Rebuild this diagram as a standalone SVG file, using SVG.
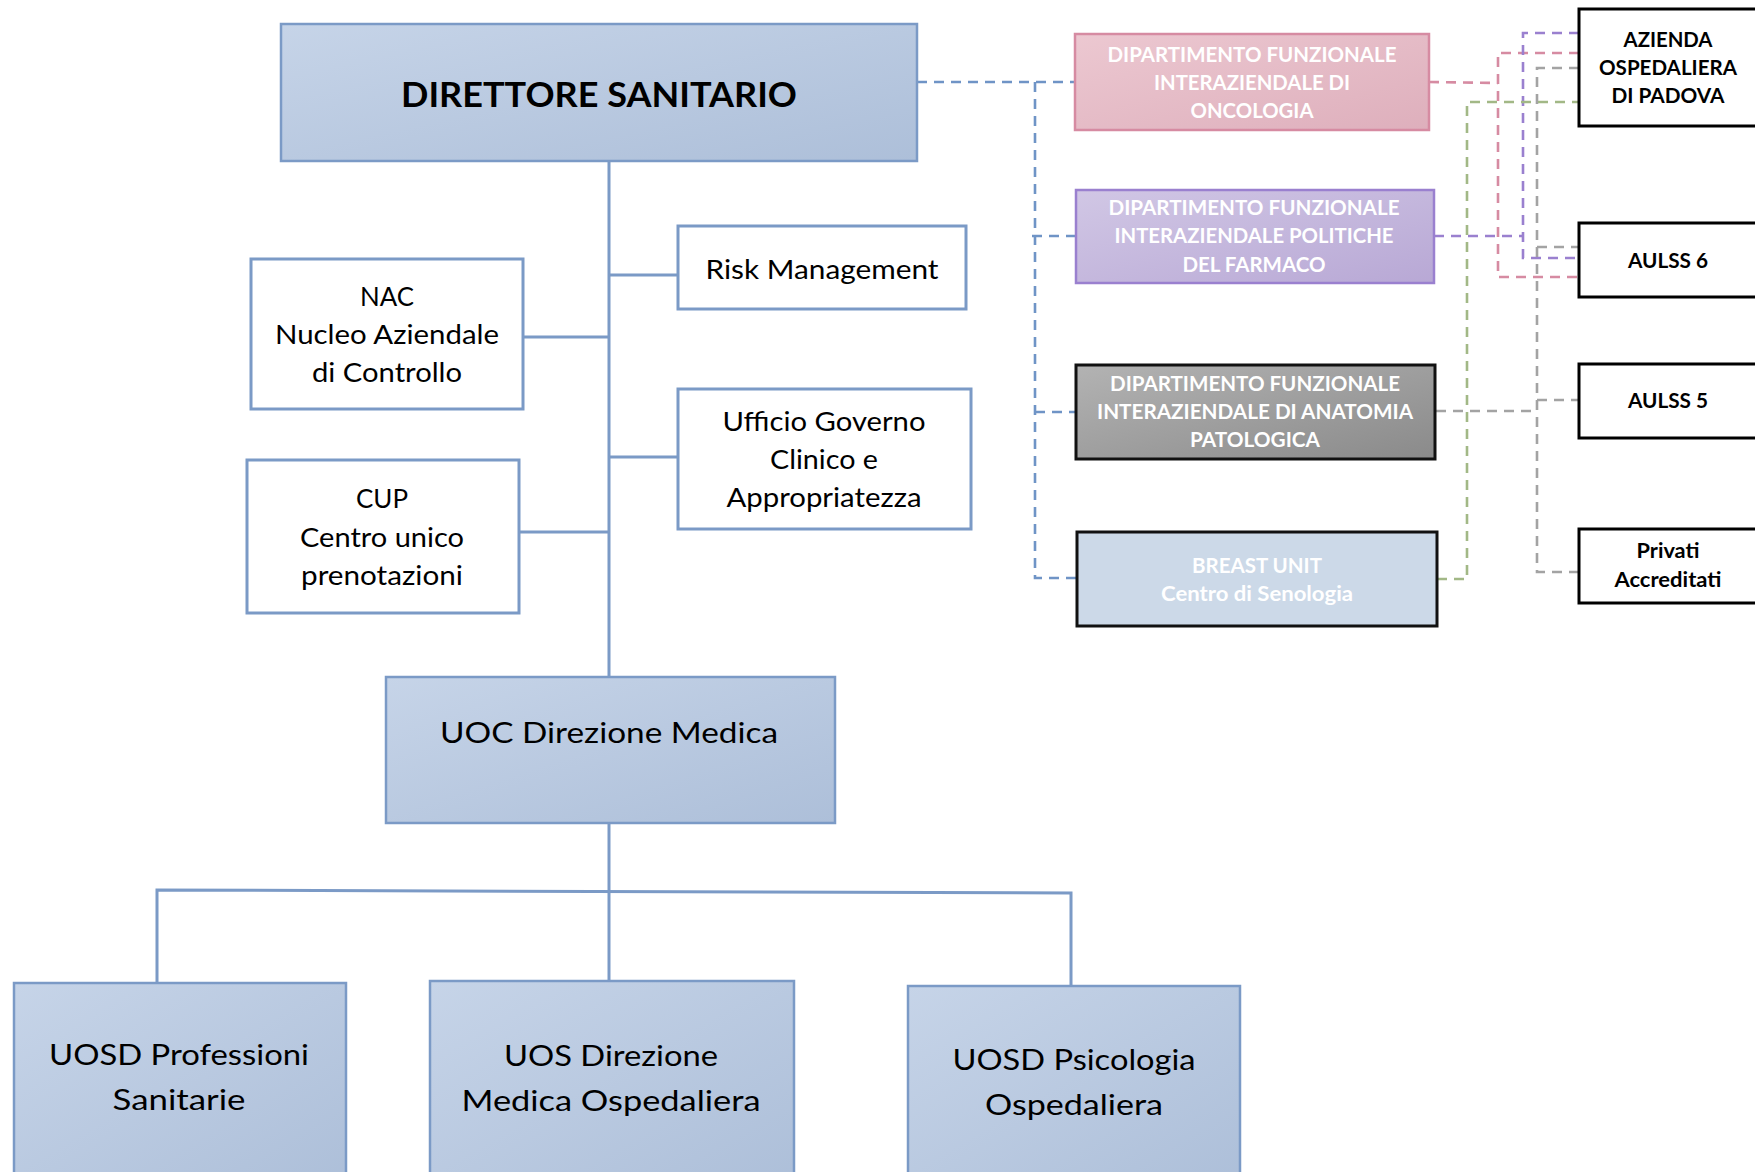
<svg xmlns="http://www.w3.org/2000/svg" width="1755" height="1172" viewBox="0 0 1755 1172">
<defs>
<linearGradient id="gBlue" x1="0" y1="0" x2="1" y2="1">
<stop offset="0" stop-color="#c6d4e8"/><stop offset="1" stop-color="#adbfd9"/>
</linearGradient>
<linearGradient id="gPink" x1="0" y1="0" x2="1" y2="1">
<stop offset="0" stop-color="#ecc8d1"/><stop offset="1" stop-color="#deafbc"/>
</linearGradient>
<linearGradient id="gPurple" x1="0" y1="0" x2="1" y2="1">
<stop offset="0" stop-color="#d1c7e5"/><stop offset="1" stop-color="#b8a8d5"/>
</linearGradient>
<linearGradient id="gGray" x1="0" y1="0" x2="1" y2="1">
<stop offset="0" stop-color="#b3b3b3"/><stop offset="1" stop-color="#8a8a8a"/>
</linearGradient>
</defs>
<style>
.blue{fill:url(#gBlue);stroke:#7b9ac6;stroke-width:2.5}
.white{fill:#fff;stroke:#7b9ac6;stroke-width:3}
.ext{fill:#fff;stroke:#000;stroke-width:3}
.t{font-family:Lato,"Open Sans",sans-serif;fill:#000;text-anchor:middle}
.tb{font-family:Lato,"Open Sans",sans-serif;font-weight:bold;text-anchor:middle}
.w{fill:#fff}
.k{fill:#000}
.solid{fill:none;stroke:#7b9ac6;stroke-width:3}
.d{fill:none;stroke-width:2.6;stroke-dasharray:10 7}
.db{stroke:#6f94c6}
.dp{stroke:#d68ba2}
.du{stroke:#9a80cf}
.dg{stroke:#a3a3a3}
.dv{stroke:#a2b886}
</style>

<g id="connectors">
<path class="solid" d="M609,161 V677"/>
<path class="solid" d="M609,275 H678"/>
<path class="solid" d="M523,337 H609"/>
<path class="solid" d="M609,457 H678"/>
<path class="solid" d="M519,532 H609"/>
<path class="solid" d="M609,823 V981"/>
<path class="solid" d="M157,983 V890 L1071,893 V986"/>

<path class="d db" d="M917,82 H1075"/>
<path class="d db" d="M1035,82 V578 H1077"/>
<path class="d db" d="M1032,236 H1076"/>
<path class="d db" d="M1035,412 H1075"/>

<path class="d dp" d="M1429,82 L1498,83"/>
<path class="d dp" d="M1579,53 H1498 V277 H1579"/>

<path class="d du" d="M1434,236 H1523"/>
<path class="d du" d="M1579,33 H1523 V258 H1579"/>

<path class="d dg" d="M1579,68 H1537 V572 H1579"/>
<path class="d dg" d="M1537,247 H1579"/>
<path class="d dg" d="M1537,400 H1579"/>
<path class="d dg" d="M1436,411 H1537"/>

<path class="d dv" d="M1437,579 H1467 V102 H1579"/>
</g>

<g id="direttore">
<rect class="blue" x="281" y="24" width="636" height="137"/>
<text class="tb k" x="599" y="107" font-size="35" textLength="396" lengthAdjust="spacingAndGlyphs">DIRETTORE SANITARIO</text>
</g>

<g id="risk">
<rect class="white" x="678" y="226" width="288" height="83"/>
<text class="t" x="822" y="279" font-size="26.5" textLength="233" lengthAdjust="spacingAndGlyphs">Risk Management</text>
</g>

<g id="nac">
<rect class="white" x="251" y="259" width="272" height="150"/>
<text class="t" x="387" y="306" font-size="26.5" textLength="54" lengthAdjust="spacingAndGlyphs">NAC</text>
<text class="t" x="387" y="344" font-size="26.5" textLength="224" lengthAdjust="spacingAndGlyphs">Nucleo Aziendale</text>
<text class="t" x="387" y="382" font-size="26.5" textLength="150" lengthAdjust="spacingAndGlyphs">di Controllo</text>
</g>

<g id="ufficio">
<rect class="white" x="678" y="389" width="293" height="140"/>
<text class="t" x="824" y="431" font-size="26.5" textLength="203" lengthAdjust="spacingAndGlyphs">Ufficio Governo</text>
<text class="t" x="824" y="469" font-size="26.5" textLength="108" lengthAdjust="spacingAndGlyphs">Clinico e</text>
<text class="t" x="824" y="507" font-size="26.5" textLength="195" lengthAdjust="spacingAndGlyphs">Appropriatezza</text>
</g>

<g id="cup">
<rect class="white" x="247" y="460" width="272" height="153"/>
<text class="t" x="382" y="508" font-size="26.5" textLength="52" lengthAdjust="spacingAndGlyphs">CUP</text>
<text class="t" x="382" y="547" font-size="26.5" textLength="164" lengthAdjust="spacingAndGlyphs">Centro unico</text>
<text class="t" x="382" y="585" font-size="26.5" textLength="162" lengthAdjust="spacingAndGlyphs">prenotazioni</text>
</g>

<g id="uoc">
<rect class="blue" x="386" y="677" width="449" height="146"/>
<text class="t" x="609" y="743" font-size="29.5" textLength="338" lengthAdjust="spacingAndGlyphs">UOC Direzione Medica</text>
</g>

<g id="uosd-professioni">
<rect class="blue" x="14" y="983" width="332" height="200"/>
<text class="t" x="179" y="1065" font-size="29.5" textLength="260" lengthAdjust="spacingAndGlyphs">UOSD Professioni</text>
<text class="t" x="179" y="1110" font-size="29.5" textLength="133" lengthAdjust="spacingAndGlyphs">Sanitarie</text>
</g>

<g id="uos-direzione">
<rect class="blue" x="430" y="981" width="364" height="202"/>
<text class="t" x="611" y="1066" font-size="29.5" textLength="214" lengthAdjust="spacingAndGlyphs">UOS Direzione</text>
<text class="t" x="611" y="1111" font-size="29.5" textLength="299" lengthAdjust="spacingAndGlyphs">Medica Ospedaliera</text>
</g>

<g id="uosd-psicologia">
<rect class="blue" x="908" y="986" width="332" height="197"/>
<text class="t" x="1074" y="1070" font-size="29.5" textLength="243" lengthAdjust="spacingAndGlyphs">UOSD Psicologia</text>
<text class="t" x="1074" y="1115" font-size="29.5" textLength="178" lengthAdjust="spacingAndGlyphs">Ospedaliera</text>
</g>

<g id="oncologia">
<rect x="1075" y="34" width="354" height="96" fill="url(#gPink)" stroke="#d68ba2" stroke-width="2.5"/>
<text class="tb w" x="1252" y="62" font-size="20.5" textLength="289" lengthAdjust="spacingAndGlyphs">DIPARTIMENTO FUNZIONALE</text>
<text class="tb w" x="1252" y="90" font-size="20.5" textLength="196" lengthAdjust="spacingAndGlyphs">INTERAZIENDALE DI</text>
<text class="tb w" x="1252" y="118" font-size="20.5" textLength="123" lengthAdjust="spacingAndGlyphs">ONCOLOGIA</text>
</g>

<g id="farmaco">
<rect x="1076" y="190" width="358" height="93" fill="url(#gPurple)" stroke="#9a80cf" stroke-width="2.5"/>
<text class="tb w" x="1254" y="215" font-size="20.5" textLength="291" lengthAdjust="spacingAndGlyphs">DIPARTIMENTO FUNZIONALE</text>
<text class="tb w" x="1254" y="243" font-size="20.5" textLength="279" lengthAdjust="spacingAndGlyphs">INTERAZIENDALE POLITICHE</text>
<text class="tb w" x="1254" y="272" font-size="20.5" textLength="143" lengthAdjust="spacingAndGlyphs">DEL FARMACO</text>
</g>

<g id="anatomia">
<rect x="1076" y="365" width="359" height="94" fill="url(#gGray)" stroke="#111" stroke-width="3"/>
<text class="tb w" x="1255" y="391" font-size="20.5" textLength="290" lengthAdjust="spacingAndGlyphs">DIPARTIMENTO FUNZIONALE</text>
<text class="tb w" x="1255" y="419" font-size="20.5" textLength="316" lengthAdjust="spacingAndGlyphs">INTERAZIENDALE DI ANATOMIA</text>
<text class="tb w" x="1255" y="447" font-size="20.5" textLength="130" lengthAdjust="spacingAndGlyphs">PATOLOGICA</text>
</g>

<g id="breast-unit">
<rect x="1077" y="532" width="360" height="94" fill="#ccd9e8" stroke="#111" stroke-width="3"/>
<text class="tb w" x="1257" y="573" font-size="20.5" textLength="130" lengthAdjust="spacingAndGlyphs">BREAST UNIT</text>
<text class="tb w" x="1257" y="601" font-size="20.5" textLength="192" lengthAdjust="spacingAndGlyphs">Centro di Senologia</text>
</g>

<g id="azienda-padova">
<rect class="ext" x="1579" y="9" width="190" height="117"/>
<text class="tb k" x="1668" y="47" font-size="20.5" textLength="89" lengthAdjust="spacingAndGlyphs">AZIENDA</text>
<text class="tb k" x="1668" y="75" font-size="20.5" textLength="138" lengthAdjust="spacingAndGlyphs">OSPEDALIERA</text>
<text class="tb k" x="1668" y="103" font-size="20.5" textLength="113" lengthAdjust="spacingAndGlyphs">DI PADOVA</text>
</g>

<g id="aulss6">
<rect class="ext" x="1579" y="223" width="190" height="74"/>
<text class="tb k" x="1668" y="268" font-size="20.5" textLength="80" lengthAdjust="spacingAndGlyphs">AULSS 6</text>
</g>

<g id="aulss5">
<rect class="ext" x="1579" y="364" width="190" height="74"/>
<text class="tb k" x="1668" y="408" font-size="20.5" textLength="80" lengthAdjust="spacingAndGlyphs">AULSS 5</text>
</g>

<g id="privati">
<rect class="ext" x="1579" y="529" width="190" height="74"/>
<text class="tb k" x="1668" y="558" font-size="20.5" textLength="63" lengthAdjust="spacingAndGlyphs">Privati</text>
<text class="tb k" x="1668" y="587" font-size="20.5" textLength="107" lengthAdjust="spacingAndGlyphs">Accreditati</text>
</g>
</svg>
